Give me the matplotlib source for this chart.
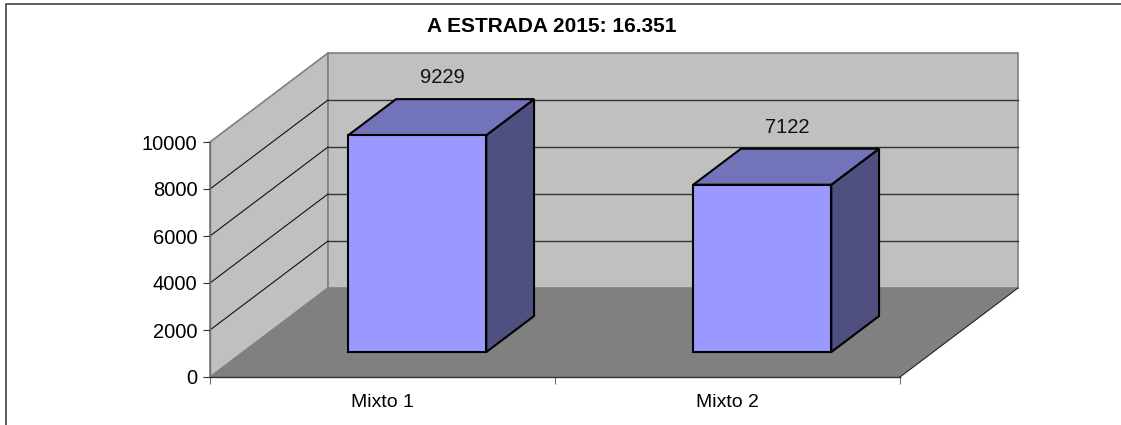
import matplotlib
matplotlib.use("Agg")
import matplotlib.pyplot as plt
from matplotlib.lines import Line2D
from matplotlib.patches import Polygon

categories = ["Mixto 1", "Mixto 2"]
values = [9229, 7122]
y_ticks = [0, 2000, 4000, 6000, 8000, 10000]
title = "A ESTRADA 2015: 16.351"

W, H = 1121, 425
YMAX = 10000
# front plane of the box, pixels
LEFT, RIGHT, TOP, BOTTOM = 210, 900, 142, 377
# how far the back of the box sits from the front, in data units
DEPTH_X = 118 / ((RIGHT - LEFT) / len(categories))
DEPTH_Y = 89 / ((BOTTOM - TOP) / YMAX)
BAR_WIDTH = 0.4
BAR_SHIFT = 0.005
BAR_FRONT = 0.28
BAR_BACK = 0.685


def proj(x, y, depth):
    return (x + depth * DEPTH_X, y + depth * DEPTH_Y)


def face(ax, pts, color, edge, lw, z):
    ax.add_patch(Polygon([proj(*p) for p in pts], closed=True, facecolor=color,
                         edgecolor=edge, linewidth=lw, zorder=z, clip_on=False,
                         joinstyle="miter"))


plt.rcParams["font.family"] = ["Liberation Sans", "DejaVu Sans"]
fig = plt.figure(figsize=(W / 100, H / 100), dpi=100)
ax = fig.add_axes([LEFT / W, 1 - BOTTOM / H, (RIGHT - LEFT) / W, (BOTTOM - TOP) / H])
ax.set_xlim(0, len(categories))
ax.set_ylim(0, YMAX)
ax.patch.set_visible(False)

n = len(categories)
# walls and floor
face(ax, [(0, 0, 0), (0, 0, 1), (0, YMAX, 1), (0, YMAX, 0)], "#C0C0C0", "#808080", 1.2, 1)
face(ax, [(0, 0, 1), (n, 0, 1), (n, YMAX, 1), (0, YMAX, 1)], "#C0C0C0", "#808080", 1.2, 1)
face(ax, [(0, 0, 0), (n, 0, 0), (n, 0, 1), (0, 0, 1)], "#808080", "none", 0, 2)

# right edge of the floor
x1, y1 = proj(n, 0, 0)
x2, y2 = proj(n, 0, 1)
ax.plot([x1, x2], [y1, y2], color="#222222", lw=0.8, zorder=3, clip_on=False)

# gridlines, side wall then back wall
for t in y_ticks[1:-1]:
    x1, y1 = proj(0, t, 0)
    x2, y2 = proj(0, t, 1)
    x3, y3 = proj(n, t, 1)
    ax.plot([x1, x2], [y1, y2], color="#111111", lw=0.8, zorder=3, clip_on=False)
    ax.plot([x2, x3], [y2, y3], color="#333333", lw=1.0, zorder=3, clip_on=False)

# bars
for i, v in enumerate(values):
    c = i + 0.5 + BAR_SHIFT
    x0 = c - BAR_WIDTH / 2
    x1 = c + BAR_WIDTH / 2
    face(ax, [(x1, 0, BAR_FRONT), (x1, 0, BAR_BACK), (x1, v, BAR_BACK), (x1, v, BAR_FRONT)],
         "#4F4F80", "black", 1.5, 4)
    face(ax, [(x0, v, BAR_FRONT), (x1, v, BAR_FRONT), (x1, v, BAR_BACK), (x0, v, BAR_BACK)],
         "#7373BA", "black", 1.5, 4)
    face(ax, [(x0, 0, BAR_FRONT), (x1, 0, BAR_FRONT), (x1, v, BAR_FRONT), (x0, v, BAR_FRONT)],
         "#9999FF", "black", 1.5, 5)
    ax.annotate(str(v), proj(c, v, (BAR_FRONT + BAR_BACK) / 2), xytext=(1, 28.5),
                textcoords="offset points", ha="center", va="center",
                fontsize=14.5, color="#111111", zorder=6, annotation_clip=False)

# axes
for s in ["top", "right"]:
    ax.spines[s].set_visible(False)
for s in ["left", "bottom"]:
    ax.spines[s].set_color("#333333")
    ax.spines[s].set_linewidth(1.0)
    ax.spines[s].set_zorder(6)
ax.spines["left"].set_color("#707070")
ax.set_yticks(y_ticks)
ax.tick_params(axis="y", length=5, width=0.8, color="#333333", labelsize=14.5, pad=4)
ax.set_xticks(range(n + 1))
ax.set_xticklabels([])
ax.set_xticks([i + 0.5 for i in range(n)], minor=True)
ax.set_xticklabels(categories, minor=True)
ax.tick_params(axis="x", which="major", length=5, width=0.8, color="#707070")
ax.tick_params(axis="x", which="minor", length=0, labelsize=14, pad=12.5)

fig.text(552 / W, 1 - 27 / H, title, ha="center", va="center", fontsize=15,
         fontweight="bold", color="black")

# chart border, only top and left reach the picture
fig.add_artist(Line2D([1, 5.5 / W, 5.5 / W], [1 - 4 / H, 1 - 4 / H, 0],
                      transform=fig.transFigure, color="#333333", lw=1.1))

fig.savefig("out.png", dpi=100)
plt.close(fig)
